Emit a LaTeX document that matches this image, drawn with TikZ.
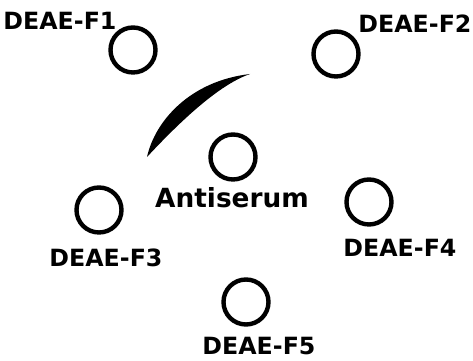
\documentclass[tikz,border=0pt]{standalone}
\usepackage{fontspec}
\setmainfont{DejaVu Sans}
\usepackage{tikz}
\usetikzlibrary{positioning}

\begin{document}
\begin{tikzpicture}[well/.style={circle, draw=black, line width=2.5pt, minimum size=0.9cm, inner sep=0pt},
  lbl/.style={anchor=base, inner sep=0pt, font=\fontsize{13.5}{15}\selectfont\bfseries}]
\useasboundingbox (0,0) rectangle (9.46,7.22);
% Wells
\node[well] (f1) at (2.66,6.22) {};
\node[well] (f2) at (6.72,6.14) {};
\node[well] (as) at (4.66,4.08) {};
\node[well] (f3) at (1.98,3.02) {};
\node[well] (f4) at (7.38,3.18) {};
\node[well] (f5) at (4.92,1.18) {};
% Labels
\node[lbl] (lf1) at (1.2,6.62) {DEAE-F1};
\node[lbl] (lf2) at (8.3,6.56) {DEAE-F2};
\node[lbl, font=\fontsize{15}{17}\selectfont\bfseries] (las) at (4.64,3.06) {Antiserum};
\node[lbl] (lf3) at (2.12,1.88) {DEAE-F3};
\node[lbl] (lf4) at (8.0,2.08) {DEAE-F4};
\node[lbl] (lf5) at (5.18,0.12) {DEAE-F5};
% Precipitin line
\fill[black] (2.94,4.08) .. controls (3.10,4.80) and (3.80,5.60) .. (5.00,5.74)
  .. controls (4.45,5.55) and (3.75,4.95) .. (2.94,4.08) -- cycle;
\end{tikzpicture}
\end{document}
